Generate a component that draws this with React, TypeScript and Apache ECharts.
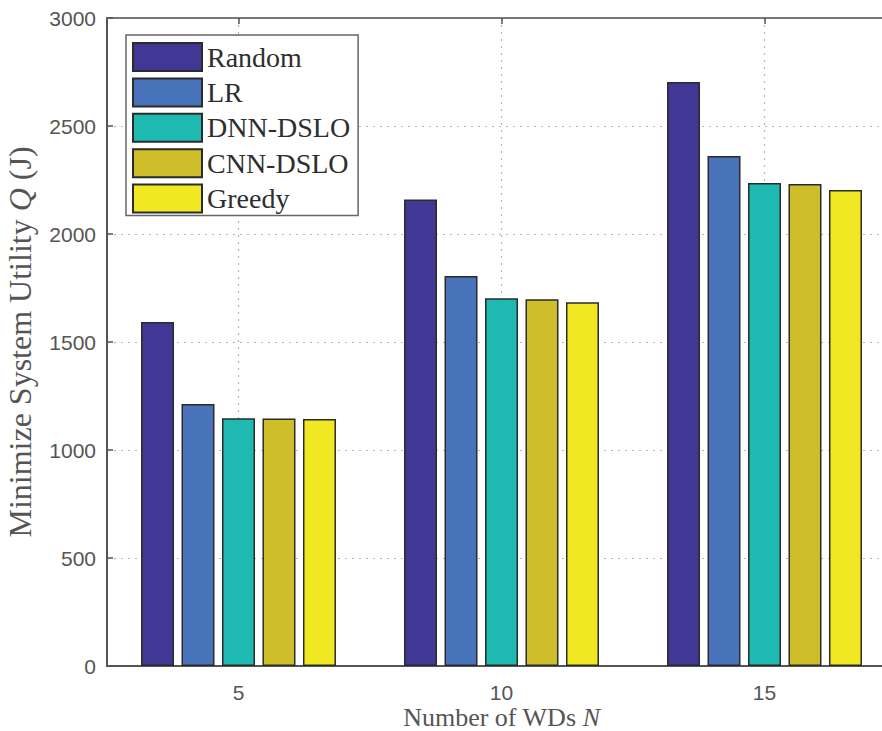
import React, { useEffect, useRef } from "react";
import * as echarts from "echarts";

const categories = ["5", "10", "15"];
const seriesNames = ["Random", "LR", "DNN-DSLO", "CNN-DSLO", "Greedy"];
const randomVals = [1593, 2160, 2704];
const lrVals = [1213, 1806, 2361];
const dnnVals = [1147, 1702, 2236];
const cnnVals = [1146, 1698, 2231];
const greedyVals = [1144, 1684, 2204];
const colors = ["#403894", "#4873ba", "#1ebab2", "#cdbe2a", "#f0e823"];
const halfCats = ["a", "b", "c", "d", "e", "f"];

export default function App() {
  const ref = useRef<HTMLDivElement>(null);
  useEffect(() => {
    document.body.style.margin = "0";
    if (!ref.current) return;
    const chart = echarts.init(ref.current, undefined, { renderer: "svg" });
    const values = [randomVals, lrVals, dnnVals, cnnVals, greedyVals];
    const serifFont = "'Liberation Serif', 'DejaVu Serif', serif";
    const sansFont = "'Liberation Sans', Arial, sans-serif";
    const odd = (i: number) => i % 2 === 1;
    chart.setOption({
      animation: false,
      backgroundColor: "#ffffff",
      grid: { left: 107, top: 18, bottom: 65, width: 789, containLabel: false, outerBoundsMode: "none" },
      legend: {
        orient: "vertical",
        left: 126,
        top: 35,
        icon: "rect",
        itemWidth: 69,
        itemHeight: 28,
        itemGap: 5.4,
        padding: [7, 8, 2, 6],
        backgroundColor: "#ffffff",
        borderColor: "#666666",
        borderWidth: 1.5,
        textStyle: { fontFamily: serifFont, fontSize: 28, color: "#2e2e2e" },
        data: seriesNames,
      },
      xAxis: [
        {
          type: "category",
          data: categories,
          position: "bottom",
          boundaryGap: true,
          axisLine: { show: true, lineStyle: { color: "#555555", width: 2 } },
          axisTick: { show: true, inside: true, alignWithLabel: true, length: 6, lineStyle: { color: "#555555", width: 1.5 } },
          axisLabel: { fontFamily: sansFont, fontSize: 21, color: "#555555", margin: 16 },
          splitLine: { show: false },
          name: "Number of WDs {i|N}",
          nameLocation: "middle",
          nameGap: 38,
          nameMoveOverlap: false,
          nameTextStyle: {
            fontFamily: serifFont,
            fontSize: 26,
            lineHeight: 26,
            color: "#555555",
            rich: { i: { fontStyle: "italic", fontFamily: serifFont, fontSize: 26, lineHeight: 26, color: "#555555" } },
          },
        },
        {
          type: "category",
          data: halfCats,
          position: "top",
          boundaryGap: true,
          axisLine: { show: true, lineStyle: { color: "#777777", width: 2 } },
          axisTick: { show: true, inside: true, length: 6, interval: (i: number) => odd(i), lineStyle: { color: "#555555", width: 1.5 } },
          axisLabel: { show: false },
          splitLine: {
            show: true,
            interval: (i: number) => odd(i),
            lineStyle: { type: [2, 5], color: "#b5b5b5", width: 1.2 },
          },
        },
      ],
      yAxis: {
        type: "value",
        min: 0,
        max: 3000,
        interval: 500,
        axisLine: { show: true, lineStyle: { color: "#555555", width: 2 } },
        axisTick: { show: true, inside: true, length: 6, lineStyle: { color: "#555555", width: 1.5 } },
        axisLabel: { fontFamily: sansFont, fontSize: 21, color: "#555555", margin: 11, formatter: (v: number) => String(v) },
        splitLine: { show: true, lineStyle: { type: [2, 5], color: "#b5b5b5", width: 1.2 } },
        name: "Minimize System Utility {i|Q} (J)",
        nameLocation: "middle",
        nameGap: 71,
        nameMoveOverlap: false,
        nameTextStyle: {
          fontFamily: serifFont,
          fontSize: 32,
          color: "#555555",
          rich: { i: { fontStyle: "italic", fontFamily: serifFont, fontSize: 32, color: "#555555" } },
        },
      },
      series: seriesNames.map((name, k) => ({
        name,
        type: "bar",
        xAxisIndex: 0,
        data: values[k],
        barWidth: 33,
        barGap: "22.7%",
        itemStyle: { color: colors[k], borderColor: "#2b2b2b", borderWidth: 1.5 },
      })),
    });
    return () => chart.dispose();
  }, []);
  return <div ref={ref} style={{ width: 882, height: 731 }} />;
}
